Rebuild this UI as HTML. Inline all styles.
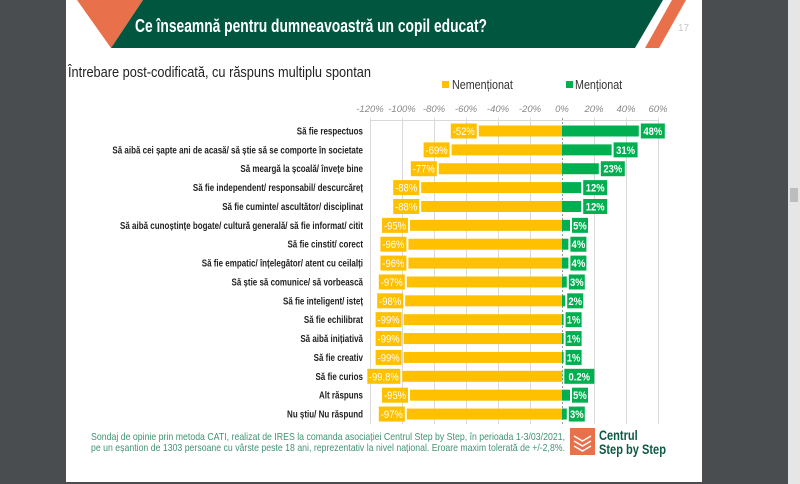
<!DOCTYPE html>
<html><head><meta charset="utf-8"><style>
html,body{margin:0;padding:0;background:#4a4d50;}
svg{display:block;font-family:"Liberation Sans",sans-serif;}
</style></head><body>
<svg width="800" height="484" viewBox="0 0 800 484" xmlns="http://www.w3.org/2000/svg">
<rect x="0" y="0" width="800" height="484" fill="#4a4d50"/>
<rect x="788" y="0" width="12" height="484" fill="#e6e6e6"/>
<rect x="790" y="188" width="8" height="14" fill="#bdbdbd"/>
<rect x="66" y="0" width="636" height="482" fill="#ffffff"/>
<polygon points="77,0 143,0 111,48" fill="#e8704a"/>
<polygon points="143,0 663,0 635,48 111,48" fill="#00563f"/>
<polygon points="672,0 686,0 659,48 645,48" fill="#e8704a"/>
<text x="135" y="32" font-size="18" font-weight="bold" fill="#ffffff" textLength="352" lengthAdjust="spacingAndGlyphs">Ce înseamnă pentru dumneavoastră un copil educat?</text>
<text x="678" y="31" font-size="10" fill="#c8c8c8">17</text>
<text x="68" y="77" font-size="14.5" fill="#222" textLength="303" lengthAdjust="spacingAndGlyphs">Întrebare post-codificată, cu răspuns multiplu spontan</text>
<rect x="442" y="81" width="7" height="7" fill="#ffc000"/>
<g transform="translate(452,89) scale(0.86,1)"><text font-size="12.5" fill="#333">Nemenționat</text></g>
<rect x="566" y="81" width="7" height="7" fill="#00b050"/>
<g transform="translate(575,89) scale(0.86,1)"><text font-size="12.5" fill="#333">Menționat</text></g>
<g font-size="9.5" fill="#888" font-style="italic" text-anchor="middle">
<text x="370" y="112">-120%</text><text x="402" y="112">-100%</text><text x="434" y="112">-80%</text>
<text x="466" y="112">-60%</text><text x="498" y="112">-40%</text><text x="530" y="112">-20%</text>
<text x="562" y="112">0%</text><text x="594" y="112">20%</text><text x="626" y="112">40%</text><text x="658" y="112">60%</text>
</g>
<g stroke="#d9d9d9" stroke-width="1">
<line x1="370.5" y1="118" x2="370.5" y2="424"/><line x1="402.5" y1="118" x2="402.5" y2="424"/>
<line x1="434.5" y1="118" x2="434.5" y2="424"/><line x1="466.5" y1="118" x2="466.5" y2="424"/>
<line x1="498.5" y1="118" x2="498.5" y2="424"/><line x1="530.5" y1="118" x2="530.5" y2="424"/>
<line x1="594.5" y1="118" x2="594.5" y2="424"/><line x1="626.5" y1="118" x2="626.5" y2="424"/>
<line x1="658.5" y1="118" x2="658.5" y2="424"/>
<line x1="370" y1="120.5" x2="658" y2="120.5"/>
</g>
<line x1="562.5" y1="118" x2="562.5" y2="424" stroke="#999" stroke-dasharray="2,2"/>
<g id="rows"></g>
<g fill="#3f9472" font-size="10.5">
<text x="91" y="440" textLength="474" lengthAdjust="spacingAndGlyphs">Sondaj de opinie prin metoda CATI, realizat de IRES la comanda asociației  Centrul Step by Step, în perioada 1-3/03/2021,</text>
<text x="91" y="451" textLength="474" lengthAdjust="spacingAndGlyphs">pe un eșantion de 1303 persoane cu vârste peste 18 ani, reprezentativ la nivel național. Eroare maxim tolerată de +/-2,8%.</text>
</g>
<rect x="570" y="428" width="25" height="27" fill="#e8704a"/>
<g stroke="#fff" stroke-width="1.5" fill="none">
<polyline points="574,436 582.5,441 591,436"/><polyline points="574,441 582.5,446 591,441"/><polyline points="574,446 582.5,451 591,446"/>
</g>
<g transform="translate(599,440) scale(0.82,1)" fill="#0d5a44" font-weight="bold" font-size="13.5">
<text x="0" y="0">Centrul</text><text x="0" y="14">Step by Step</text>
</g>
</svg>
<script>
var data=[["Să fie respectuos",52,48,"-52%","48%"],
["Să aibă cei șapte ani de acasă/ să știe să se comporte în societate",69,31,"-69%","31%"],
["Să meargă la școală/ învețe bine",77,23,"-77%","23%"],
["Să fie independent/ responsabil/ descurcăreț",88,12,"-88%","12%"],
["Să fie cuminte/ ascultător/ disciplinat",88,12,"-88%","12%"],
["Să aibă cunoștințe bogate/ cultură generală/ să fie informat/ citit",95,5,"-95%","5%"],
["Să fie cinstit/ corect",96,4,"-96%","4%"],
["Să fie empatic/ înțelegător/ atent cu ceilalți",96,4,"-96%","4%"],
["Să știe să comunice/ să vorbească",97,3,"-97%","3%"],
["Să fie inteligent/ isteț",98,2,"-98%","2%"],
["Să fie echilibrat",99,1,"-99%","1%"],
["Să aibă inițiativă",99,1,"-99%","1%"],
["Să fie creativ",99,1,"-99%","1%"],
["Să fie curios",99.8,0.2,"-99.8%","0.2%"],
["Alt răspuns",95,5,"-95%","5%"],
["Nu știu/ Nu răspund",97,3,"-97%","3%"]];
var g=document.getElementById("rows"),h="";
data.forEach(function(d,i){
 var cy=131+i*18.87, x0=562, sc=1.6;
 var yl=x0-d[1]*sc, gr=x0+d[2]*sc;
 h+='<rect x="'+yl+'" y="'+(cy-5.5)+'" width="'+(d[1]*sc)+'" height="11" fill="#ffc000"/>';
 h+='<rect x="'+x0+'" y="'+(cy-5.5)+'" width="'+(d[2]*sc)+'" height="11" fill="#00b050"/>';
 var wy=d[3].length>4?33:26;
 var wg=d[4].length==2?16:(d[4].length==3?24:30);
 h+='<rect x="'+(yl-2-wy)+'" y="'+(cy-7.5)+'" width="'+wy+'" height="15" fill="#ffc000"/>';
 h+='<text x="'+(yl-2-wy/2)+'" y="'+(cy+4)+'" font-size="11" fill="#fff" text-anchor="middle" transform="translate('+((yl-2-wy/2)*0.14)+',0) scale(0.86,1)">'+d[3]+'</text>';
 var gx=gr+2;
 h+='<rect x="'+gx+'" y="'+(cy-7.5)+'" width="'+wg+'" height="15" fill="#00b050"/>';
 h+='<text x="'+(gx+wg/2)+'" y="'+(cy+4)+'" font-size="11" font-weight="bold" fill="#fff" text-anchor="middle" transform="translate('+((gx+wg/2)*0.14)+',0) scale(0.86,1)">'+d[4]+'</text>';
 h+='<text x="363" y="'+(cy+3.5)+'" font-size="10" font-weight="bold" fill="#222" text-anchor="end" transform="translate('+(363*0.2)+',0) scale(0.8,1)">'+d[0]+'</text>';
});
g.innerHTML=h;
</script>
</body></html>
